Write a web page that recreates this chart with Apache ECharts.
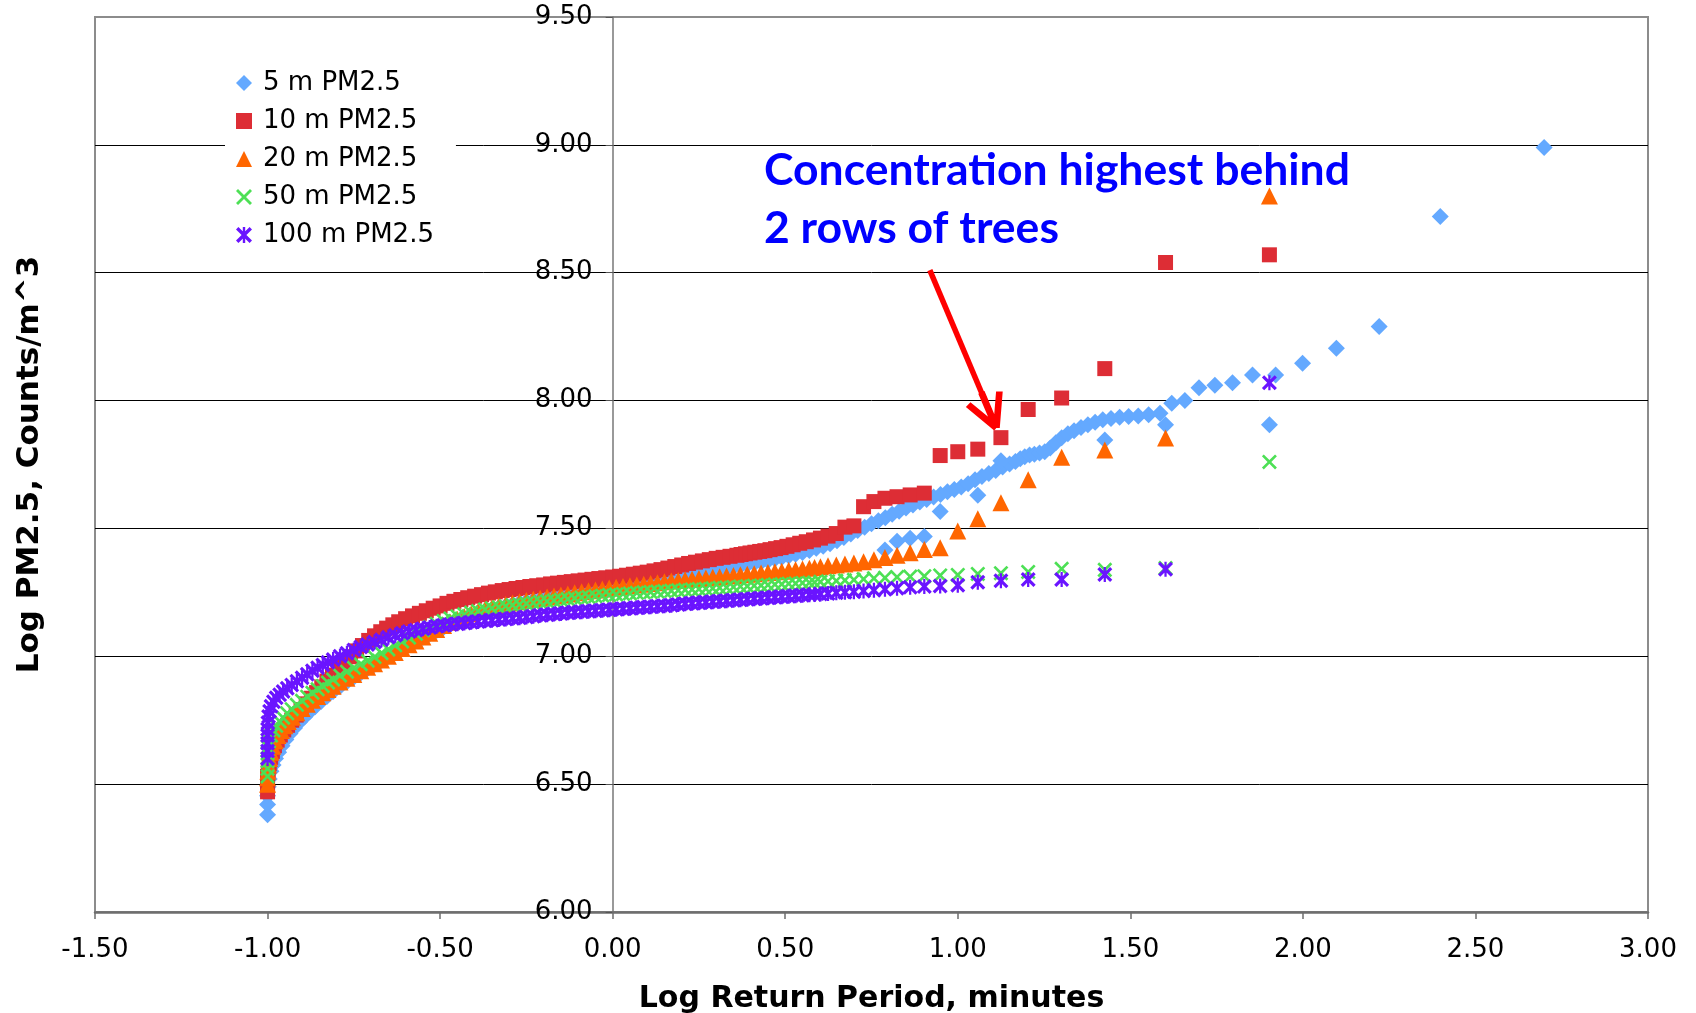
<!DOCTYPE html>
<html>
<head>
<meta charset="utf-8">
<script src="https://cdn.jsdelivr.net/npm/echarts@6/dist/echarts.min.js"></script>
<style>
  html, body { margin: 0; padding: 0; background: #ffffff; }
  #chart { width: 1696px; height: 1013px; }
</style>
</head>
<body>
<div id="chart"></div>
<script>
// ---------------- DATA ----------------
const seriesNames = ['5 m PM2.5', '10 m PM2.5', '20 m PM2.5', '50 m PM2.5', '100 m PM2.5'];

// 5 m PM2.5 : [log return period, log PM2.5]
const blue5m = [
  [-1.0,6.38],[-1.0,6.42],[-1.0,6.455],[-0.998,6.49],[-0.995,6.52],[-0.99,6.55],[-0.984,6.575],[-0.977,6.6],
  [-0.968,6.625],[-0.958,6.65],[-0.947,6.675],[-0.935,6.698],[-0.922,6.72],[-0.908,6.742],[-0.893,6.763],
  [-0.878,6.783],[-0.862,6.803],[-0.845,6.823],[-0.828,6.843],[-0.81,6.862],[-0.79,6.882],[-0.77,6.9],
  [-0.75,6.918],[-0.73,6.935],[-0.71,6.952],[-0.69,6.968],[-0.67,6.984],[-0.65,7.0],[-0.63,7.015],[-0.61,7.03],
  [-0.59,7.045],[-0.57,7.06],[-0.55,7.074],[-0.53,7.088],[-0.51,7.101],[-0.49,7.113],[-0.47,7.125],[-0.45,7.136],
  [-0.43,7.147],[-0.41,7.157],[-0.39,7.166],[-0.37,7.175],[-0.35,7.183],[-0.33,7.19],[-0.31,7.197],[-0.29,7.203],
  [-0.27,7.209],[-0.25,7.214],[-0.23,7.219],[-0.21,7.224],[-0.19,7.229],[-0.17,7.233],[-0.15,7.237],[-0.13,7.241],
  [-0.11,7.245],[-0.09,7.249],[-0.07,7.253],[-0.05,7.257],[-0.03,7.26],[-0.01,7.264],[0.01,7.268],[0.03,7.271],
  [0.05,7.275],[0.07,7.279],[0.09,7.283],[0.11,7.287],[0.13,7.291],[0.15,7.295],[0.17,7.3],[0.19,7.305],
  [0.21,7.31],[0.23,7.316],[0.25,7.322],[0.27,7.328],[0.29,7.333],[0.31,7.338],[0.33,7.343],[0.35,7.348],
  [0.37,7.353],[0.39,7.358],[0.41,7.363],[0.43,7.368],[0.45,7.374],[0.47,7.38],[0.49,7.386],[0.51,7.392],
  [0.53,7.399],[0.55,7.406],[0.57,7.414],[0.59,7.422],[0.61,7.43],[0.63,7.44],[0.65,7.452],[0.67,7.465],
  [0.69,7.478],[0.71,7.492],[0.73,7.505],[0.75,7.518],[0.77,7.53],[0.79,7.542],[0.81,7.555],[0.83,7.567],
  [0.85,7.58],[0.87,7.592],[0.89,7.603],[0.91,7.613],[0.93,7.623],[0.95,7.633],[0.97,7.643],[0.99,7.652],
  [1.01,7.662],[1.03,7.675],[1.05,7.69],[1.07,7.703],[1.09,7.715],[1.11,7.727],[1.13,7.74],[1.15,7.752],
  [1.167,7.762],[1.181,7.772],[1.194,7.78],[1.208,7.787],[1.222,7.79],[1.237,7.795],[1.252,7.8],[1.268,7.815],
  [1.284,7.835],[1.301,7.855],[1.319,7.87],[1.337,7.882],[1.357,7.895],[1.377,7.905],[1.398,7.915],[1.42,7.925],
  [1.444,7.93],[1.469,7.935],[1.495,7.938],[1.523,7.94],[1.553,7.945],[1.586,7.95],[1.62,7.99],[1.658,8.0],
  [1.699,8.05],[1.745,8.06],[1.796,8.07],[1.854,8.1],[1.921,8.1],[1.999,8.146],[2.097,8.205],[2.221,8.29],
  [2.398,8.72],[2.699,8.99]
];
const blue5mLow = [
  [0.789,7.416],[0.824,7.45],[0.862,7.462],[0.903,7.468],[0.949,7.566],[1.058,7.63],[1.125,7.765],
  [1.426,7.846],[1.602,7.905],[1.903,7.905]
];

// 10 m PM2.5
const red10m = [
  [-1.0,6.47],[-1.0,6.5],[-1.0,6.53],[-0.998,6.555],[-0.995,6.58],[-0.991,6.605],[-0.986,6.628],[-0.98,6.65],
  [-0.972,6.672],[-0.963,6.692],[-0.953,6.712],[-0.942,6.73],[-0.93,6.75],[-0.917,6.77],[-0.903,6.792],
  [-0.888,6.814],[-0.873,6.836],[-0.858,6.858],[-0.843,6.88],[-0.828,6.903],[-0.812,6.926],[-0.795,6.95],
  [-0.777,6.975],[-0.76,6.998],[-0.742,7.021],[-0.725,7.042],[-0.707,7.062],[-0.69,7.08],[-0.672,7.096],
  [-0.655,7.11],[-0.637,7.123],[-0.62,7.135],[-0.6,7.147],[-0.58,7.158],[-0.56,7.168],[-0.54,7.178],
  [-0.52,7.188],[-0.5,7.197],[-0.48,7.207],[-0.46,7.215],[-0.44,7.222],[-0.42,7.229],[-0.4,7.235],[-0.38,7.241],
  [-0.36,7.247],[-0.34,7.252],[-0.32,7.257],[-0.3,7.261],[-0.28,7.265],[-0.26,7.269],[-0.24,7.273],[-0.22,7.276],
  [-0.2,7.279],[-0.18,7.283],[-0.16,7.286],[-0.14,7.289],[-0.12,7.292],[-0.1,7.295],[-0.08,7.298],[-0.06,7.301],
  [-0.04,7.304],[-0.02,7.307],[0.0,7.31],[0.02,7.313],[0.04,7.317],[0.06,7.321],[0.08,7.325],[0.1,7.329],
  [0.12,7.334],[0.14,7.339],[0.16,7.345],[0.18,7.351],[0.2,7.357],[0.22,7.363],[0.24,7.368],[0.26,7.373],
  [0.28,7.378],[0.3,7.383],[0.32,7.387],[0.34,7.391],[0.36,7.395],[0.372,7.398],[0.385,7.401],[0.398,7.404],
  [0.412,7.407],[0.426,7.41],[0.441,7.413],[0.456,7.417],[0.472,7.421],[0.488,7.425],[0.505,7.43],[0.523,7.436],
  [0.542,7.442],[0.561,7.448],[0.582,7.455],[0.602,7.462],[0.624,7.47],[0.648,7.48],[0.673,7.505],[0.699,7.51],
  [0.727,7.585],[0.757,7.605],[0.789,7.618],[0.824,7.624],[0.862,7.631],[0.903,7.638],[0.949,7.785],[1.0,7.8],
  [1.058,7.81],[1.125,7.855],[1.204,7.965],[1.301,8.01],[1.426,8.125],[1.602,8.54],[1.903,8.57]
];

// 20 m PM2.5
const orange20m = [
  [-1.0,6.5],[-1.0,6.525],[-0.999,6.55],[-0.997,6.575],[-0.994,6.6],[-0.99,6.625],[-0.985,6.648],[-0.978,6.67],
  [-0.97,6.69],[-0.96,6.71],[-0.95,6.728],[-0.94,6.745],[-0.928,6.762],[-0.915,6.779],[-0.9,6.796],[-0.885,6.812],
  [-0.87,6.828],[-0.855,6.843],[-0.84,6.857],[-0.825,6.87],[-0.81,6.883],[-0.79,6.899],[-0.77,6.914],[-0.75,6.929],
  [-0.73,6.943],[-0.71,6.957],[-0.69,6.971],[-0.67,6.985],[-0.65,7.0],[-0.63,7.015],[-0.61,7.03],[-0.59,7.045],
  [-0.57,7.06],[-0.55,7.075],[-0.53,7.09],[-0.51,7.105],[-0.49,7.12],[-0.47,7.133],[-0.45,7.145],[-0.43,7.156],
  [-0.41,7.166],[-0.39,7.175],[-0.37,7.183],[-0.35,7.19],[-0.33,7.197],[-0.31,7.203],[-0.29,7.208],[-0.27,7.213],
  [-0.25,7.218],[-0.23,7.223],[-0.21,7.227],[-0.19,7.232],[-0.17,7.236],[-0.15,7.24],[-0.13,7.244],[-0.11,7.248],
  [-0.09,7.252],[-0.07,7.256],[-0.05,7.259],[-0.03,7.263],[-0.01,7.267],[0.01,7.27],[0.03,7.273],[0.05,7.276],
  [0.07,7.279],[0.09,7.282],[0.11,7.285],[0.13,7.288],[0.15,7.291],[0.17,7.294],[0.19,7.296],[0.21,7.299],
  [0.23,7.301],[0.25,7.304],[0.27,7.306],[0.29,7.309],[0.31,7.311],[0.33,7.314],[0.35,7.316],[0.37,7.319],
  [0.39,7.321],[0.41,7.323],[0.43,7.326],[0.45,7.328],[0.47,7.331],[0.49,7.333],[0.51,7.336],[0.53,7.338],
  [0.55,7.341],[0.57,7.344],[0.585,7.347],[0.602,7.35],[0.624,7.354],[0.648,7.357],[0.673,7.361],[0.699,7.365],
  [0.727,7.37],[0.757,7.378],[0.789,7.386],[0.824,7.395],[0.862,7.405],[0.903,7.418],[0.949,7.424],[1.0,7.49],
  [1.058,7.538],[1.125,7.6],[1.204,7.69],[1.301,7.778],[1.426,7.807],[1.602,7.854],[1.903,8.8]
];

// 50 m PM2.5
const green50m = [
  [-1.0,6.53],[-1.0,6.56],[-1.0,6.59],[-1.0,6.62],[-0.999,6.645],[-0.996,6.668],[-0.99,6.69],[-0.983,6.71],
  [-0.975,6.728],[-0.965,6.745],[-0.955,6.76],[-0.943,6.777],[-0.93,6.793],[-0.915,6.81],[-0.9,6.826],
  [-0.885,6.842],[-0.87,6.857],[-0.855,6.871],[-0.84,6.884],[-0.825,6.897],[-0.81,6.909],[-0.79,6.925],
  [-0.77,6.94],[-0.75,6.955],[-0.73,6.969],[-0.71,6.983],[-0.69,6.997],[-0.67,7.012],[-0.65,7.027],[-0.63,7.043],
  [-0.61,7.058],[-0.59,7.073],[-0.57,7.088],[-0.55,7.102],[-0.53,7.115],[-0.51,7.127],[-0.49,7.138],[-0.47,7.148],
  [-0.45,7.157],[-0.43,7.164],[-0.41,7.171],[-0.39,7.177],[-0.37,7.183],[-0.35,7.188],[-0.33,7.192],[-0.31,7.196],
  [-0.29,7.2],[-0.27,7.203],[-0.25,7.206],[-0.23,7.209],[-0.21,7.212],[-0.19,7.215],[-0.17,7.218],[-0.15,7.221],
  [-0.13,7.224],[-0.11,7.227],[-0.09,7.23],[-0.07,7.232],[-0.05,7.235],[-0.03,7.237],[-0.01,7.24],[0.01,7.242],
  [0.03,7.244],[0.05,7.246],[0.07,7.248],[0.09,7.25],[0.11,7.251],[0.13,7.253],[0.15,7.255],[0.17,7.256],
  [0.19,7.258],[0.21,7.26],[0.23,7.261],[0.25,7.263],[0.27,7.264],[0.29,7.266],[0.31,7.268],[0.33,7.269],
  [0.35,7.271],[0.37,7.273],[0.39,7.274],[0.41,7.276],[0.43,7.277],[0.45,7.279],[0.47,7.281],[0.49,7.282],
  [0.51,7.284],[0.53,7.285],[0.55,7.287],[0.57,7.288],[0.585,7.289],[0.602,7.291],[0.624,7.293],[0.648,7.295],
  [0.673,7.297],[0.699,7.299],[0.727,7.302],[0.757,7.305],[0.789,7.307],[0.824,7.31],[0.862,7.312],[0.903,7.313],
  [0.949,7.316],[1.0,7.318],[1.058,7.322],[1.125,7.325],[1.204,7.33],[1.301,7.342],[1.426,7.338],[1.602,7.345],
  [1.903,7.76]
];

// 100 m PM2.5
const purple100m = [
  [-1.0,6.6],[-1.0,6.63],[-1.0,6.66],[-1.0,6.69],[-1.0,6.715],[-0.999,6.74],[-0.997,6.765],[-0.994,6.785],
  [-0.99,6.805],[-0.983,6.822],[-0.975,6.838],[-0.965,6.85],[-0.955,6.862],[-0.943,6.875],[-0.93,6.888],
  [-0.915,6.902],[-0.9,6.916],[-0.885,6.93],[-0.87,6.943],[-0.855,6.955],[-0.84,6.966],[-0.825,6.977],
  [-0.81,6.987],[-0.79,7.0],[-0.77,7.012],[-0.75,7.025],[-0.73,7.036],[-0.71,7.046],[-0.69,7.056],[-0.67,7.065],
  [-0.65,7.074],[-0.63,7.082],[-0.61,7.09],[-0.59,7.097],[-0.57,7.103],[-0.55,7.108],[-0.53,7.113],[-0.51,7.117],
  [-0.49,7.121],[-0.47,7.124],[-0.45,7.127],[-0.43,7.13],[-0.41,7.133],[-0.39,7.136],[-0.37,7.139],[-0.35,7.141],
  [-0.33,7.144],[-0.31,7.146],[-0.29,7.149],[-0.27,7.151],[-0.25,7.154],[-0.23,7.157],[-0.21,7.16],[-0.19,7.162],
  [-0.17,7.165],[-0.15,7.167],[-0.13,7.17],[-0.11,7.172],[-0.09,7.174],[-0.07,7.176],[-0.05,7.178],[-0.03,7.18],
  [-0.01,7.182],[0.01,7.184],[0.03,7.186],[0.05,7.188],[0.07,7.19],[0.09,7.192],[0.11,7.194],[0.13,7.196],
  [0.15,7.198],[0.17,7.2],[0.19,7.203],[0.21,7.205],[0.23,7.207],[0.25,7.209],[0.27,7.211],[0.29,7.213],
  [0.31,7.215],[0.33,7.217],[0.35,7.219],[0.37,7.221],[0.39,7.223],[0.41,7.225],[0.43,7.227],[0.45,7.229],
  [0.47,7.231],[0.49,7.233],[0.51,7.235],[0.53,7.237],[0.55,7.239],[0.57,7.241],[0.585,7.242],[0.602,7.244],
  [0.624,7.246],[0.648,7.248],[0.673,7.25],[0.699,7.252],[0.727,7.255],[0.757,7.258],[0.789,7.262],[0.824,7.266],
  [0.862,7.27],[0.903,7.273],[0.949,7.275],[1.0,7.278],[1.058,7.29],[1.125,7.295],[1.204,7.3],[1.301,7.3],
  [1.426,7.32],[1.602,7.34],[1.903,8.07]
];

// Annotation: text and arrow (arrow given in data coordinates: from, to)
const noteText = 'Concentration highest behind\n2 rows of trees';
const arrowFrom = [0.919, 8.51];
const arrowTo = [1.091, 7.96];

// ---------------- STYLE ----------------
const colors = ['#64A9FF', '#DD2D35', '#FF6600', '#4DE055', '#6A14FF'];
const FONT = 'DejaVu Sans, Verdana, sans-serif';
const crossPath = 'path://M0,2.5L2.5,0L10,7.5L17.5,0L20,2.5L12.5,10L20,17.5L17.5,20L10,12.5L2.5,20L0,17.5L7.5,10Z';
const starPath = 'path://M0,3L3,0L10,7L17,0L20,3L13,10L20,17L17,20L10,13L3,20L0,17L7,10Z M8.5,0L11.5,0L11.5,20L8.5,20Z';
const arrowHead = 'path://M22.7,0.7L37.7,32.7L32.3,35.3L17.3,3.3Z M22.7,3.3L7.7,35.3L2.3,32.7L17.3,0.7Z M17,2L23,2L23,40L17,40Z';

const fmt = v => v.toFixed(2);

const GRID = { left: 95, right: 48, top: 17, bottom: 101 };
const plotW = 1696 - GRID.left - GRID.right;
const xMin = -1.5, xMax = 3;
// y axis drawn where x = 0 (offset inward from the grid's left edge)
const yAxisOffset = -plotW * (0 - xMin) / (xMax - xMin);

const chart = echarts.init(document.getElementById('chart'), null, { renderer: 'canvas' });
const option = {
  animation: false,
  backgroundColor: '#ffffff',
  grid: Object.assign({ show: true, borderColor: '#8c8c8c', borderWidth: 2, backgroundColor: 'transparent',
    containLabel: false, outerBoundsMode: 'none' }, GRID),
  legend: {
    orient: 'vertical', left: 225, top: 65, padding: [5, 22, 5, 11],
    itemGap: 12, itemWidth: 16, itemHeight: 16, backgroundColor: '#ffffff',
    textStyle: { fontFamily: FONT, fontSize: 26, color: '#000', padding: [0, 0, 0, 6] },
    data: seriesNames
  },
  xAxis: {
    type: 'value', min: xMin, max: xMax, interval: 0.5,
    name: 'Log Return Period, minutes', nameLocation: 'middle', nameGap: 72,
    nameTextStyle: { fontFamily: FONT, fontWeight: 'bold', fontSize: 30, color: '#000' },
    axisLine: { onZero: false, lineStyle: { color: '#6e6e6e', width: 2.5 } },
    axisTick: { length: 7, lineStyle: { color: '#6e6e6e', width: 1.5 } },
    axisLabel: { margin: 25, fontFamily: FONT, fontSize: 26, color: '#000', formatter: fmt },
    splitLine: { show: false }
  },
  yAxis: [
    {
      type: 'value', min: 6, max: 9.5, interval: 0.5, position: 'left', offset: yAxisOffset,
      axisLine: { show: true, onZero: false, lineStyle: { color: '#777', width: 1.5 } },
      axisTick: { show: true, length: 7, lineStyle: { color: '#555', width: 1 } },
      axisLabel: { margin: 20, fontFamily: FONT, fontSize: 26, color: '#000', formatter: fmt },
      splitLine: { show: true, showMinLine: false, showMaxLine: false, lineStyle: { color: '#000', width: 1 } }
    },
    {
      type: 'value', min: 6, max: 9.5, position: 'left',
      name: 'Log PM2.5, Counts/m^3', nameLocation: 'middle', nameGap: 50, nameRotate: 90,
      nameTextStyle: { fontFamily: FONT, fontWeight: 'bold', fontSize: 31, color: '#000' },
      axisLine: { show: false, onZero: false }, axisTick: { show: false },
      axisLabel: { show: false }, splitLine: { show: false }
    }
  ],
  graphic: [{
    type: 'text', left: 764, top: 142, z: 100,
    style: { text: noteText, font: 'bold 44.5px Lato, "Open Sans", sans-serif', fill: '#0000FF', lineHeight: 58 }
  }],
  series: [
    { name: seriesNames[0], type: 'scatter', data: blue5m.concat(blue5mLow), symbol: 'diamond', symbolSize: 17,
      itemStyle: { color: colors[0], opacity: 1 }, emphasis: { disabled: true } },
    { name: seriesNames[1], type: 'scatter', data: red10m, symbol: 'rect', symbolSize: 15,
      itemStyle: { color: colors[1], opacity: 1 }, emphasis: { disabled: true } },
    { name: seriesNames[2], type: 'scatter', data: orange20m, symbol: 'triangle', symbolSize: 17,
      itemStyle: { color: colors[2], opacity: 1 }, emphasis: { disabled: true } },
    { name: seriesNames[3], type: 'scatter', data: green50m, symbol: crossPath, symbolSize: 15,
      itemStyle: { color: colors[3], opacity: 1 }, emphasis: { disabled: true } },
    { name: seriesNames[4], type: 'scatter', data: purple100m, symbol: starPath, symbolSize: 15,
      itemStyle: { color: colors[4], opacity: 1 }, emphasis: { disabled: true } },
    { name: 'arrow', type: 'scatter', data: [], silent: true,
      markLine: {
        silent: true, animation: false,
        symbol: ['none', arrowHead], symbolSize: 40,
        lineStyle: { color: '#FF0000', width: 5.5, type: 'solid' },
        itemStyle: { color: '#FF0000' },
        label: { show: false }, emphasis: { disabled: true },
        data: [[{ coord: arrowFrom }, { coord: arrowTo }]]
      } }
  ]
};
chart.setOption(option);
</script>
</body>
</html>
